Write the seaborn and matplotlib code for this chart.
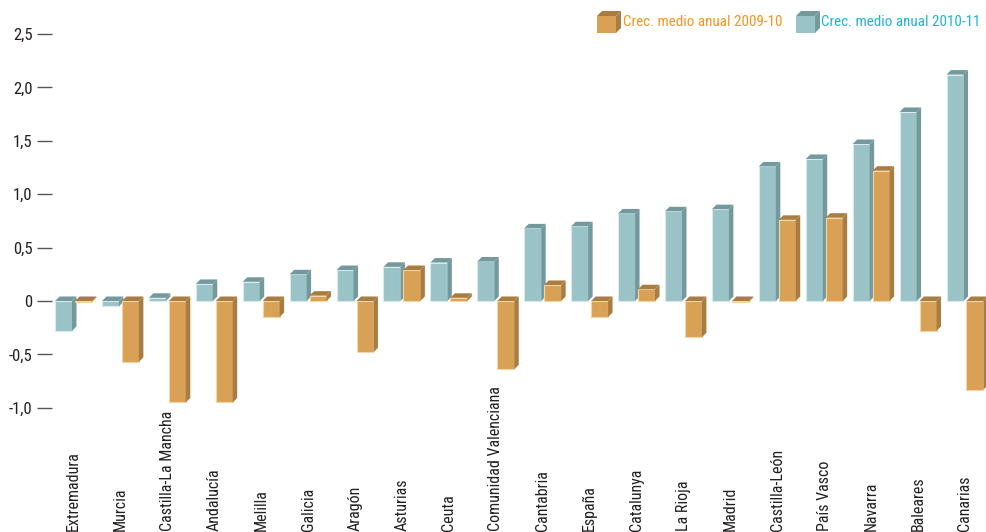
import numpy as np
import pandas as pd
import matplotlib
matplotlib.use("Agg")
import matplotlib.pyplot as plt
from matplotlib.patches import Polygon, Rectangle
import seaborn as sns

# ----------- Data -----------
regions = ["Extremadura", "Murcia", "Castilla-La Mancha", "Andalucía", "Melilla",
           "Galicia", "Aragón", "Asturias", "Ceuta", "Comunidad Valenciana",
           "Cantabria", "España", "Catalunya", "La Rioja", "Madrid",
           "Castilla-León", "País Vasco", "Navarra", "Baleares", "Canarias"]
crec_2010_11 = [-0.28, -0.05, 0.03, 0.16, 0.18, 0.25, 0.29, 0.32, 0.36, 0.37,
                0.68, 0.70, 0.82, 0.84, 0.86, 1.26, 1.33, 1.47, 1.77, 2.12]
crec_2009_10 = [-0.01, -0.57, -0.95, -0.95, -0.15, 0.05, -0.48, 0.29, 0.03, -0.64,
                0.15, -0.15, 0.11, -0.34, -0.01, 0.76, 0.78, 1.22, -0.28, -0.83]
serie_a = "Crec. medio anual 2009-10"
serie_b = "Crec. medio anual 2010-11"
yticks = [-1.0, -0.5, 0, 0.5, 1.0, 1.5, 2.0, 2.5]
ytick_labels = ["-1,0", "-0,5", "0", "0,5", "1,0", "1,5", "2,0", "2,5"]

# ----------- Style -----------
blue_face, blue_side = "#9AC3C8", "#73999C"
orange_face, orange_side = "#D9A156", "#A97D42"
text_col = "#231F20"

sns.set_style("white")
plt.rcParams["font.family"] = ["Roboto Condensed", "Roboto", "DejaVu Sans"]

df = pd.DataFrame({
    "region": regions * 2,
    "serie": [serie_b] * len(regions) + [serie_a] * len(regions),
    "value": crec_2010_11 + crec_2009_10,
})

W, H = 986, 532
fig = plt.figure(figsize=(W / 100, H / 100), dpi=100)
ax = fig.add_axes([52 / W, 0, (W - 52) / W, 1])

sns.barplot(data=df, x="region", y="value", hue="serie", hue_order=[serie_b, serie_a],
            palette={serie_b: blue_face, serie_a: orange_face}, width=0.85, gap=0.15,
            saturation=1, errorbar=None, legend=False, linewidth=0, ax=ax)

# y: 0 at 301px, 106.8 px per unit
ppu = 106.8
ax.set_ylim(-(H - 301) / ppu, 301 / ppu)
ax.set_xlim(-0.458, 19.448)

# ----------- 3D look: side and top faces -----------
dx = 4.5 / 46.9
dy = 4.5 / ppu
bars = sorted([p for p in ax.patches if isinstance(p, Rectangle)], key=lambda p: p.get_x())
for i, p in enumerate(bars):
    x0 = p.get_x()
    x1 = x0 + p.get_width()
    top = max(p.get_y(), p.get_y() + p.get_height())
    bot = min(p.get_y(), p.get_y() + p.get_height())
    fc = matplotlib.colors.to_hex(p.get_facecolor())
    is_blue = fc.lower() == blue_face.lower()
    side = blue_side if is_blue else orange_side
    edge = "#D8EAEC" if is_blue else "#F3D6A6"
    z = 2 + i * 0.01
    p.set_zorder(z)
    p.set_edgecolor(edge)
    p.set_linewidth(0.8)
    ax.add_patch(Polygon([(x1, bot), (x1, top), (x1 + dx, top + dy), (x1 + dx, bot + dy)],
                         closed=True, facecolor=side, edgecolor="none", zorder=z))
    ax.add_patch(Polygon([(x0, top), (x1, top), (x1 + dx, top + dy), (x0 + dx, top + dy)],
                         closed=True, facecolor=side, edgecolor="none", zorder=z))

# ----------- Axes -----------
sns.despine(ax=ax, left=True, bottom=True)
ax.set_yticks(yticks)
ax.set_yticklabels(ytick_labels, fontsize=12, color=text_col)
ax.tick_params(axis="y", left=True, direction="out", length=10.5, width=1,
               color="#555555", pad=3.5)
ax.set_xticks([])
ax.set_xlabel("")
ax.set_ylabel("")

for i, r in enumerate(regions):
    ax.text(i, -(H - 1 - 301) / ppu, r, rotation=90, ha="center", va="bottom",
            fontsize=11.5, color=text_col, clip_on=False)

# ----------- Legend (small cubes) -----------
def fx(px):
    return px / W

def fy(py):
    return 1 - py / H

def cube(x, face, side):
    fig.patches.append(Rectangle((fx(x), fy(33)), fx(19), 17 / H, transform=fig.transFigure,
                                 facecolor=face, edgecolor="none"))
    fig.patches.append(Polygon([(fx(x + 19), fy(33)), (fx(x + 19), fy(16)), (fx(x + 24), fy(11)),
                                (fx(x + 24), fy(28))], closed=True, transform=fig.transFigure,
                               facecolor=side, edgecolor="none"))
    fig.patches.append(Polygon([(fx(x), fy(16)), (fx(x + 19), fy(16)), (fx(x + 24), fy(11)),
                                (fx(x + 5), fy(11))], closed=True, transform=fig.transFigure,
                               facecolor=side, edgecolor="none"))

cube(597, orange_face, orange_side)
cube(796, blue_face, blue_side)
fig.text(fx(623), fy(22), serie_a, ha="left", va="center", fontsize=10.8, color="#F7941D")
fig.text(fx(821), fy(22), serie_b, ha="left", va="center", fontsize=10.8, color="#1CB4D8")

plt.savefig("out.png", dpi=100)
plt.close()
